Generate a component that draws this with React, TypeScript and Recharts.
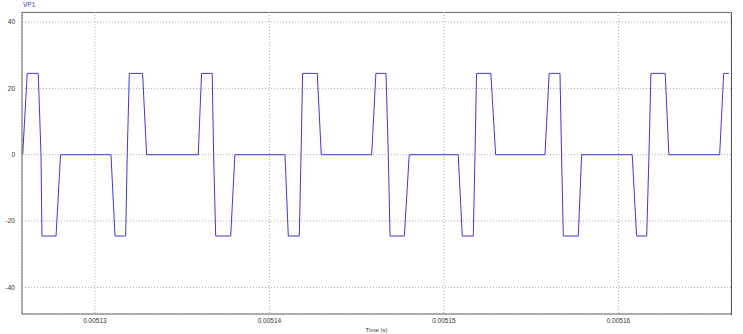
import React from 'react';
import { LineChart, Line, XAxis, YAxis, CartesianGrid, Label } from 'recharts';

// corner points of the VP1 waveform (time in s, voltage in V)
const times = [
  0.00512586, 0.00512612, 0.00512675, 0.00512691, 0.00512696, 0.00512777, 0.00512803,
  0.00513092, 0.00513115, 0.00513176, 0.00513185, 0.00513197, 0.00513273, 0.00513296,
  0.00513592, 0.00513611, 0.00513672, 0.0051368, 0.00513692, 0.00513778, 0.00513802,
  0.00514089, 0.00514108, 0.00514171, 0.00514181, 0.0051419, 0.00514274, 0.00514297,
  0.00514586, 0.0051461, 0.00514668, 0.00514681, 0.00514691, 0.00514773, 0.00514801,
  0.00515082, 0.00515105, 0.00515168, 0.00515178, 0.00515187, 0.00515269, 0.00515296,
  0.00515579, 0.00515603, 0.00515665, 0.00515674, 0.00515684, 0.0051577, 0.00515789,
  0.00516079, 0.00516104, 0.00516162, 0.00516175, 0.00516186, 0.00516268, 0.00516289,
  0.0051658, 0.00516603, 0.00516633,
];
const vp1 = [
  0, 24.5, 24.5, 0, -24.5, -24.5, 0,
  0, -24.5, -24.5, 0, 24.5, 24.5, 0,
  0, 24.5, 24.5, 0, -24.5, -24.5, 0,
  0, -24.5, -24.5, 0, 24.5, 24.5, 0,
  0, 24.5, 24.5, 0, -24.5, -24.5, 0,
  0, -24.5, -24.5, 0, 24.5, 24.5, 0,
  0, 24.5, 24.5, 0, -24.5, -24.5, 0,
  0, -24.5, -24.5, 0, 24.5, 24.5, 0,
  0, 24.5, 24.5,
];

const xTicks = [0.00513, 0.00514, 0.00515, 0.00516];
const yTicks = [-40, -20, 0, 20, 40];
const xDomain = [0.00512582, 0.00516645];
const yDomain = [-48, 43];

const data = times.map((t, i) => ({ t, v: vp1[i] }));

const font = 'Liberation Sans, Arial, sans-serif';
const tickStyle = { fontSize: 6.5, fill: '#333', fontFamily: font };

export default function App() {
  return (
    <div style={{ position: 'fixed', left: 0, top: 0, width: 743, height: 334, background: '#fff' }}>
      <div style={{ position: 'absolute', left: 23, top: 1, fontSize: 6.5, color: '#3c3ccc', fontFamily: font }}>
        VP1
      </div>
      {/* frame round the plot area */}
      <div
        style={{
          position: 'absolute', left: 22, top: 12, width: 709, height: 302,
          borderTop: '1px solid #666', borderRight: '1px solid #444', pointerEvents: 'none',
        }}
      />
      <LineChart width={743} height={334} data={data} margin={{ top: 12, right: 12, bottom: 0, left: 0 }}>
        <CartesianGrid stroke="#aaa" strokeDasharray="1 2" />
        <XAxis
          dataKey="t"
          type="number"
          domain={xDomain}
          ticks={xTicks}
          allowDataOverflow
          height={20}
          tickLine={false}
          tickSize={0}
          tickMargin={4}
          axisLine={{ stroke: '#666' }}
          tick={tickStyle}
          tickFormatter={(v: number) => String(v)}
        >
          <Label value="Time (s)" position="insideBottom" offset={2} style={{ ...tickStyle, fontSize: 6 }} />
        </XAxis>
        <YAxis
          type="number"
          domain={yDomain}
          ticks={yTicks}
          allowDataOverflow
          width={22}
          tickLine={false}
          tickSize={0}
          tickMargin={7}
          axisLine={{ stroke: '#666' }}
          tick={tickStyle}
        />
        <Line
          type="linear"
          dataKey="v"
          stroke="#3c3ccc"
          strokeWidth={1}
          dot={false}
          isAnimationActive={false}
        />
      </LineChart>
    </div>
  );
}
